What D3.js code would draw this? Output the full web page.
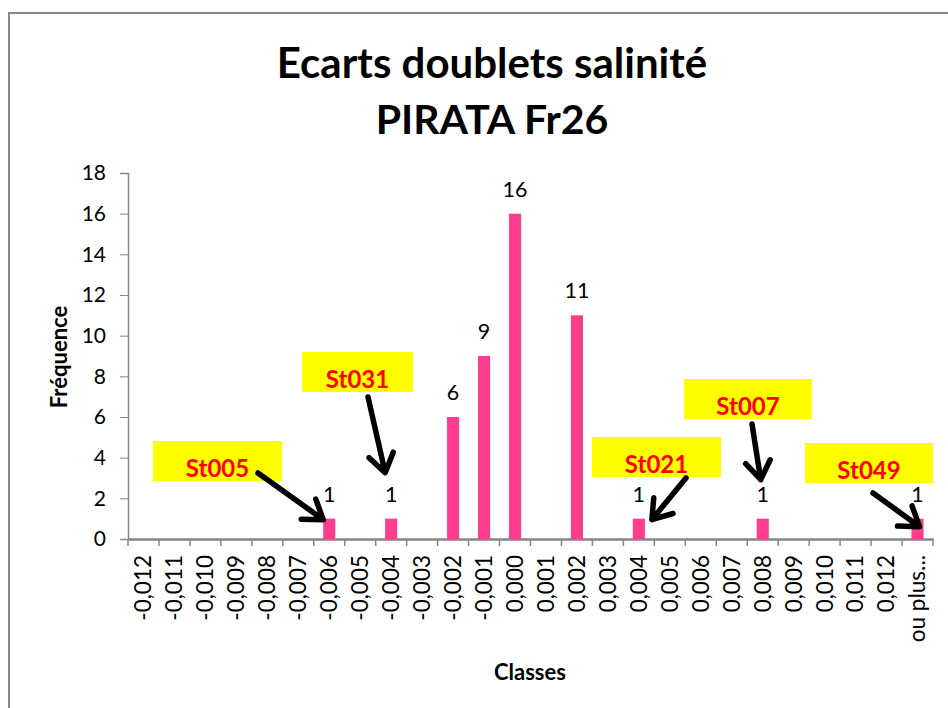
<!DOCTYPE html>
<html>
<head>
<meta charset="utf-8">
<script src="https://cdn.jsdelivr.net/npm/d3@7"></script>
<style>
  body { margin: 0; background: #fff; }
  svg text { font-family: Lato, "Open Sans", sans-serif; }
</style>
</head>
<body>
<div id="chart"></div>
<script>
// histogram data
var classes = ["-0,012","-0,011","-0,010","-0,009","-0,008","-0,007","-0,006","-0,005","-0,004","-0,003",
  "-0,002","-0,001","0,000","0,001","0,002","0,003","0,004","0,005","0,006","0,007","0,008","0,009",
  "0,010","0,011","0,012","ou plus..."]
var freq = [0,0,0,0,0,0,1,0,1,0,6,9,16,0,11,0,1,0,0,0,1,0,0,0,0,1]
var yTicks = [0,2,4,6,8,10,12,14,16,18]

// station call-outs and the class they point at
var noteLabels = ["St005","St031","St021","St007","St049"]
var noteTargets = ["-0,006","-0,004","0,004","0,008","ou plus..."]

// layout of call-outs: box (x,y,w,h), arrow start, arrow tip offset from bar top-centre
var noteBoxes = [[153,441,129,40],[302,352,111,40],[592,437,129,40],[684,379,128,40],[805,443,128,40]]
var noteStart = [[258,473],[368,397],[686,478],[752,424],[873,493]]
var noteTip = [[-6,1],[-6,-46],[13,1],[-2,-39],[2,8]]

const W = 948, H = 708
const plot = {left: 128, right: 933, top: 173, bottom: 539}

var svg = d3.select("#chart").append("svg")
  .attr("width", W).attr("height", H)

// outer frame
svg.append("rect")
  .attr("x", 9).attr("y", 13)
  .attr("width", W + 20).attr("height", H + 20)
  .attr("fill", "#fff").attr("stroke", "#888").attr("stroke-width", 2)

var x = d3.scaleBand().domain(classes).range([plot.left, plot.right]).padding(0)
var y = d3.scaleLinear().domain([0, 18]).range([plot.bottom, plot.top])

// titles
svg.append("text").attr("x", 492).attr("y", 78).attr("text-anchor", "middle")
  .style("font-size", "42px").style("font-weight", "bold").text("Ecarts doublets salinité")
svg.append("text").attr("x", 492).attr("y", 134).attr("text-anchor", "middle")
  .style("font-size", "41px").style("font-weight", "bold").text("PIRATA Fr26")

// y axis
var yAxis = svg.append("g")
  .attr("transform", "translate(" + plot.left + ",0)")
  .call(d3.axisLeft(y).tickValues(yTicks).tickSize(8).tickPadding(14))
yAxis.selectAll("line").attr("stroke", "#868686")
yAxis.select(".domain").attr("stroke", "#868686").attr("stroke-width", 1.5)
yAxis.selectAll("text").style("font-size", "21px").attr("fill", "#000")

// x axis (labels from the axis, ticks between classes)
var xAxis = svg.append("g")
  .attr("transform", "translate(0," + plot.bottom + ")")
  .call(d3.axisBottom(x).tickSize(0).tickSizeOuter(0))
xAxis.select(".domain").attr("stroke", "#868686").attr("stroke-width", 2.5)
xAxis.selectAll("text")
  .style("font-size", "22.5px").attr("fill", "#000")
  .attr("text-anchor", "end")
  .attr("transform", "rotate(-90)")
  .attr("x", -16).attr("y", 0).attr("dy", "0.35em")
var edges = classes.map(function(c){ return x(c) }).concat([plot.right])
xAxis.selectAll(".sep").data(edges).enter().append("line")
  .attr("x1", function(d){ return d }).attr("x2", function(d){ return d })
  .attr("y1", 0).attr("y2", 7)
  .attr("stroke", "#868686").attr("stroke-width", 1.5)

// axis titles
svg.append("text").attr("transform", "translate(67,357) rotate(-90)")
  .attr("text-anchor", "middle")
  .style("font-size", "22px").style("font-weight", "bold").text("Fréquence")
svg.append("text").attr("x", 530).attr("y", 680).attr("text-anchor", "middle")
  .style("font-size", "22px").style("font-weight", "bold").text("Classes")

// bars
var barW = x.bandwidth() * 0.39
var data = classes.map(function(c, i){ return {c: c, v: freq[i]} })
svg.selectAll(".bar").data(data.filter(function(d){ return d.v > 0 })).enter()
  .append("rect")
  .attr("x", function(d){ return x(d.c) + (x.bandwidth() - barW) / 2 })
  .attr("y", function(d){ return y(d.v) })
  .attr("width", barW)
  .attr("height", function(d){ return y(0) - y(d.v) })
  .attr("fill", "#ff3d8e")

svg.selectAll(".lbl").data(data.filter(function(d){ return d.v > 0 })).enter()
  .append("text")
  .attr("x", function(d){ return x(d.c) + x.bandwidth() / 2 })
  .attr("y", function(d){ return y(d.v) - 17 })
  .attr("text-anchor", "middle")
  .style("font-size", "21.5px").attr("fill", "#000")
  .text(function(d){ return d.v })

// call-outs
function arrow(g, x1, y1, x2, y2) {
  var a = Math.atan2(y2 - y1, x2 - x1), len = 22, spread = 0.6
  var p = d3.path()
  p.moveTo(x1, y1); p.lineTo(x2, y2)
  p.moveTo(x2 - len * Math.cos(a - spread), y2 - len * Math.sin(a - spread))
  p.lineTo(x2, y2)
  p.lineTo(x2 - len * Math.cos(a + spread), y2 - len * Math.sin(a + spread))
  g.append("path").attr("d", p.toString())
    .attr("fill", "none").attr("stroke", "#000")
    .attr("stroke-width", 5.5).attr("stroke-linecap", "round").attr("stroke-linejoin", "round")
}

noteLabels.forEach(function(lab, i) {
  var b = noteBoxes[i]
  var g = svg.append("g")
  g.append("rect").attr("x", b[0]).attr("y", b[1]).attr("width", b[2]).attr("height", b[3])
    .attr("fill", "#ffff00")
  g.append("text").attr("x", b[0] + b[2] / 2).attr("y", b[1] + b[3] / 2 + 16)
    .attr("text-anchor", "middle")
    .style("font-size", "24px").style("font-weight", "bold").attr("fill", "#ff0000")
    .text(lab)
  var k = classes.indexOf(noteTargets[i])
  var tx = x(classes[k]) + x.bandwidth() / 2 + noteTip[i][0]
  var ty = y(freq[k]) + noteTip[i][1]
  arrow(svg, noteStart[i][0], noteStart[i][1], tx, ty)
})
</script>
</body>
</html>
